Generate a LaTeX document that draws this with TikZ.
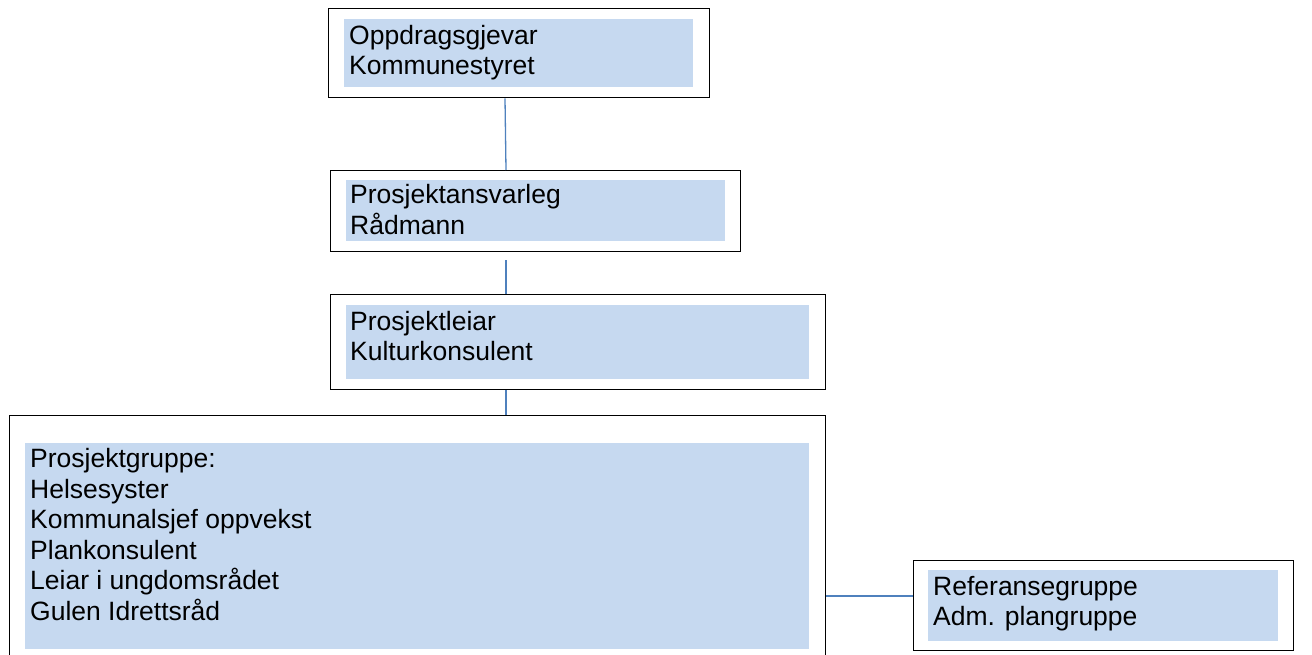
\documentclass[tikz,border=0pt]{standalone}
\usepackage{fontspec}
\setmainfont{Liberation Sans}
\definecolor{fillblue}{RGB}{198,217,240}
\definecolor{lineblue}{RGB}{79,129,189}
\tikzset{
  outerbox/.style={draw=black, line width=1.3pt, fill=white, rectangle, inner sep=0pt, anchor=north west},
  fillbox/.style={fill=fillblue, draw=none, rectangle, inner sep=0pt, anchor=north west},
  txt/.style={inner sep=0pt, anchor=base west, font=\fontsize{26.5}{30}\selectfont},
  conn/.style={draw=lineblue, line width=1.3pt}
}
\begin{document}
\begin{tikzpicture}[x=1pt,y=-1pt]
\useasboundingbox (0,0) rectangle (1312,655);
% box 1
\node[outerbox, minimum width=381pt, minimum height=89pt] (b1) at (328,8) {};
\node[fillbox, minimum width=349pt, minimum height=68pt] (f1) at (344,19) {};
\node[txt] (t1a) at (349,45) {Oppdragsgjevar};
\node[txt] (t1b) at (349,75) {Kommunestyret};
% box 2
\node[outerbox, minimum width=410pt, minimum height=81pt] (b2) at (330,170) {};
\node[fillbox, minimum width=379pt, minimum height=61pt] (f2) at (346,180) {};
\node[txt] (t2a) at (350,204) {Prosjektansvarleg};
\node[txt] (t2b) at (350,235) {Rådmann};
% box 3
\node[outerbox, minimum width=495pt, minimum height=95pt] (b3) at (330,294) {};
\node[fillbox, minimum width=463pt, minimum height=74pt] (f3) at (346,305) {};
\node[txt] (t3a) at (350,330) {Prosjektleiar};
\node[txt] (t3b) at (350,360) {Kulturkonsulent};
% box 4
\node[outerbox, minimum width=816pt, minimum height=260pt] (b4) at (9,415) {};
\node[fillbox, minimum width=784pt, minimum height=206pt] (f4) at (25,443) {};
\node[txt] (t4a) at (30,467) {Prosjektgruppe:};
\node[txt] (t4b) at (30,498) {Helsesyster};
\node[txt] (t4c) at (30,528) {Kommunalsjef oppvekst};
\node[txt] (t4d) at (30,559) {Plankonsulent};
\node[txt] (t4e) at (30,589) {Leiar i ungdomsrådet};
\node[txt] (t4f) at (30,620) {Gulen Idrettsråd};
% box 5
\node[outerbox, minimum width=380pt, minimum height=90pt] (b5) at (913,560) {};
\node[fillbox, minimum width=350pt, minimum height=71pt] (f5) at (928,570) {};
\node[txt] (t5a) at (933,595) {Referansegruppe};
\node[txt] (t5b) at (933,625) {Adm. plangruppe};
% connectors
\coordinate (c2) at (506,260);
\draw[conn] (b1.south -| 505,0) -- (b2.north -| 506,0);
\draw[conn] (c2) -- (b3.north -| c2);
\draw[conn] (b3.south -| 506,0) -- (b4.north -| 506,0);
\draw[conn] (b4.east |- 0,596) -- (b5.west |- 0,596);
\end{tikzpicture}
\end{document}
